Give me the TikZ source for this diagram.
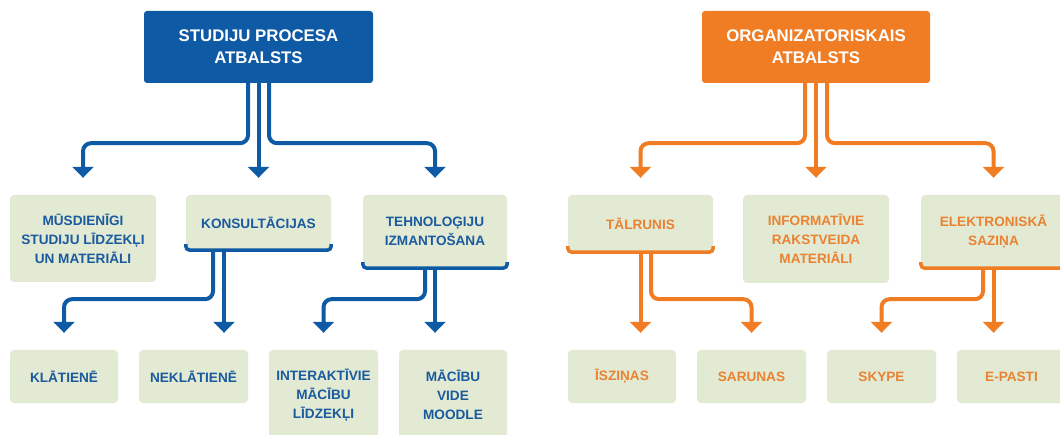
\documentclass[tikz,border=0pt]{standalone}
\usepackage{fontspec}
\setmainfont{Liberation Sans}
\usetikzlibrary{arrows.meta,calc}
\definecolor{bblue}{HTML}{0F5AA5}
\definecolor{borange}{HTML}{F07D23}
\definecolor{gfill}{HTML}{E2EAD3}
\definecolor{tblue}{HTML}{1A5A9E}
\definecolor{torange}{HTML}{EA8232}
\tikzset{
  topbox/.style={rectangle, rounded corners=3pt, text=white, inner sep=0pt, align=center,
    font=\bfseries\fontsize{16.8}{22}\selectfont},
  gbox/.style={rectangle, rounded corners=4pt, fill=gfill, inner sep=0pt, align=center,
    font=\bfseries\fontsize{13.6}{19}\selectfont},
  conn/.style={line width=4pt, rounded corners=8pt, -{Triangle[width=21pt,length=11pt]}, shorten >=17pt},
  uline/.style={line width=3.5pt, rounded corners=4pt}
}
\begin{document}
\begin{tikzpicture}[x=1pt,y=-1pt]
\useasboundingbox (0,0) rectangle (1060,435);
\clip (0,0) rectangle (1060,435);
\fill[white] (0,0) rectangle (1060,435);

% top boxes
\node[topbox, fill=bblue, minimum width=229pt, minimum height=72pt] (tb) at (258.5,47) {STUDIJU PROCESA\\ATBALSTS};
\node[topbox, fill=borange, minimum width=228pt, minimum height=72pt] (to) at (816,47) {ORGANIZATORISKAIS\\ATBALSTS};

% middle row, blue
\node[gbox, text=tblue, minimum width=146pt, minimum height=87pt] (m1) at (83,238.5) {MŪSDIENĪGI\\STUDIJU LĪDZEKĻI\\UN MATERIĀLI};
\node[gbox, text=tblue, minimum width=145pt, minimum height=55pt] (m2) at (258.5,222.5) {KONSULTĀCIJAS};
\node[gbox, text=tblue, minimum width=144pt, minimum height=73pt] (m3) at (435,231.5) {TEHNOLOĢIJU\\IZMANTOŠANA};

% bottom row, blue
\node[gbox, text=tblue, minimum width=108pt, minimum height=53pt] (b1) at (64,376.5) {KLĀTIENĒ};
\node[gbox, text=tblue, minimum width=109pt, minimum height=53pt] (b2) at (193.5,376.5) {NEKLĀTIENĒ};
\node[gbox, text=tblue, minimum width=109pt, minimum height=90pt] (b3) at (323.5,395) {INTERAKTĪVIE\\MĀCĪBU\\LĪDZEKĻI};
\node[gbox, text=tblue, minimum width=108pt, minimum height=90pt] (b4) at (453,395) {MĀCĪBU\\VIDE\\MOODLE};

% middle row, orange
\node[gbox, text=torange, minimum width=145pt, minimum height=57pt] (o1) at (640.5,223.5) {TĀLRUNIS};
\node[gbox, text=torange, minimum width=146pt, minimum height=88pt] (o2) at (816,239) {INFORMATĪVIE\\RAKSTVEIDA\\MATERIĀLI};
\node[gbox, text=torange, minimum width=145pt, minimum height=73pt] (o3) at (993.5,231.5) {ELEKTRONISKĀ\\SAZIŅA};

% bottom row, orange
\node[gbox, text=torange, minimum width=108pt, minimum height=53pt] (c1) at (622,376.5) {ĪSZIŅAS};
\node[gbox, text=torange, minimum width=109pt, minimum height=53pt] (c2) at (751.5,376.5) {SARUNAS};
\node[gbox, text=torange, minimum width=109pt, minimum height=53pt] (c3) at (881.5,376.5) {SKYPE};
\node[gbox, text=torange, minimum width=109pt, minimum height=53pt] (c4) at (1011.5,376.5) {E-PASTI};

% underlines
\draw[uline, bblue] ([yshift=6pt]m2.south west) -- (m2.south west) -- (m2.south east) -- ([yshift=6pt]m2.south east);
\draw[uline, bblue] ([yshift=6pt]m3.south west) -- (m3.south west) -- (m3.south east) -- ([yshift=6pt]m3.south east);
\draw[uline, borange] ([yshift=6pt]o1.south west) -- (o1.south west) -- (o1.south east) -- ([yshift=6pt]o1.south east);
\draw[uline, borange] ([yshift=6pt]o3.south west) -- (o3.south west) -- (o3.south east) -- ([yshift=6pt]o3.south east);

% attachment coordinates
\coordinate (k1) at ([xshift=-45.5pt]m2.south);
\coordinate (k2) at ([xshift=-34.5pt]m2.south);
\coordinate (t1) at ([xshift=-10pt]m3.south);
\coordinate (t2) at (m3.south);
\coordinate (l1) at (o1.south);
\coordinate (l2) at ([xshift=10.5pt]o1.south);
\coordinate (e1) at ([xshift=-10.5pt]o3.south);
\coordinate (e2) at (o3.south);

% blue connectors
\draw[conn, bblue] ([xshift=-10.5pt]tb.south) -- ++(0,60) -| (m1.north);
\draw[conn, bblue] (tb.south) -- (m2.north);
\draw[conn, bblue] ([xshift=10.5pt]tb.south) -- ++(0,60) -| (m3.north);
\draw[conn, bblue] (k1) -- ++(0,49) -| (b1.north);
\draw[conn, bblue] (k2) -- (k2 |- b2.north);
\draw[conn, bblue] (t1) -- ++(0,31) -| (b3.north);
\draw[conn, bblue] (t2) -- (t2 |- b4.north);

% orange connectors
\draw[conn, borange] ([xshift=-11pt]to.south) -- ++(0,60) -| (o1.north);
\draw[conn, borange] (to.south) -- (o2.north);
\draw[conn, borange] ([xshift=11pt]to.south) -- ++(0,60) -| (o3.north);
\draw[conn, borange] (l1) -- (l1 |- c1.north);
\draw[conn, borange] (l2) -- ++(0,47) -| (c2.north);
\draw[conn, borange] (e1) -- ++(0,31) -| (c3.north);
\draw[conn, borange] (e2) -- (e2 |- c4.north);
\end{tikzpicture}
\end{document}
